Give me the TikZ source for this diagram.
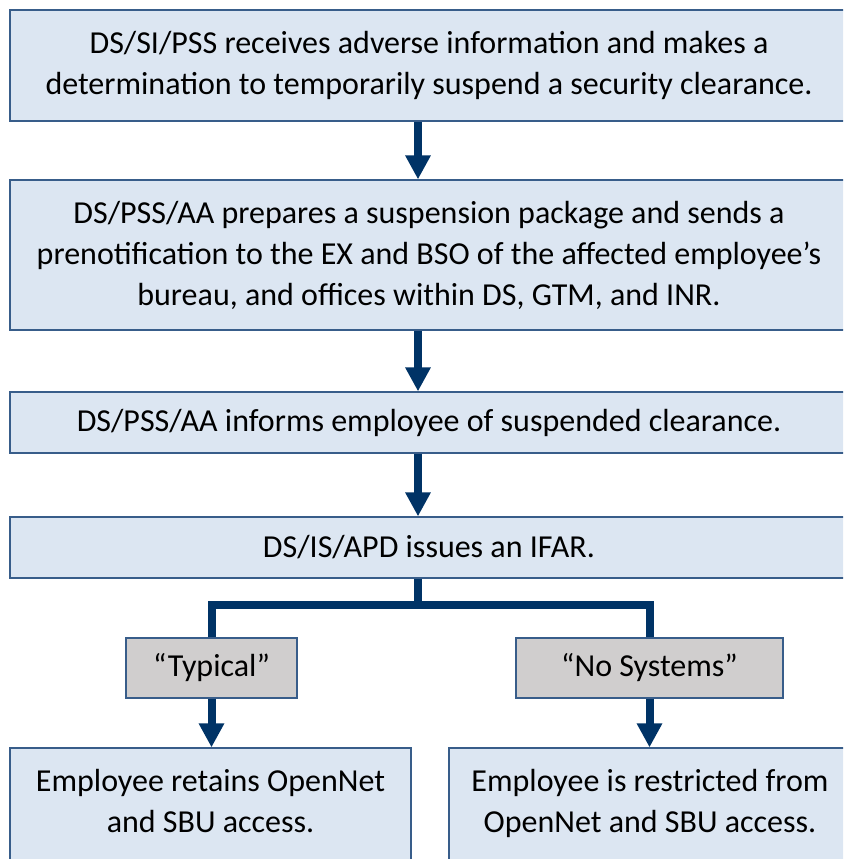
\documentclass[tikz,border=0pt]{standalone}
\usepackage{fontspec}
\setmainfont{Carlito}
\usetikzlibrary{arrows.meta}
\definecolor{boxblue}{RGB}{220,230,242}
\definecolor{edgeblue}{RGB}{56,93,138}
\definecolor{arrownavy}{RGB}{0,51,102}
\definecolor{tagfill}{RGB}{208,206,206}
\begin{document}
\begin{tikzpicture}
  [x=1pt,y=-1pt,
   every node/.style={draw=edgeblue,line width=1.2pt,inner sep=0pt,align=center,
     font=\fontsize{32}{41}\selectfont},
   stepbox/.style={fill=boxblue},
   tagbox/.style={fill=tagfill},
   trunk/.style={draw=arrownavy,line width=8pt,line join=miter},
   flow/.style={trunk,-{Triangle[width=24pt,length=24pt]}}]
  \useasboundingbox (0,0) rectangle (843,859);
  \clip (0,0) rectangle (843,859);
  \coordinate (spine) at (418,0);
  \coordinate (fork) at (418,605);

  \node[stepbox,minimum width=838pt,minimum height=111pt] (suspend) at (429,65.5)
    {DS/SI/PSS receives adverse information and makes a\\
     determination to temporarily suspend a security clearance.};
  \node[stepbox,minimum width=838pt,minimum height=150pt] (package) at (429,255)
    {DS/PSS/AA prepares a suspension package and sends a\\
     prenotification to the EX and BSO of the affected employee’s\\
     bureau, and offices within DS, GTM, and INR.};
  \node[stepbox,minimum width=838pt,minimum height=61pt] (inform) at (429,422.5)
    {DS/PSS/AA informs employee of suspended clearance.};
  \node[stepbox,minimum width=838pt,minimum height=61pt] (ifar) at (429,547.5)
    {DS/IS/APD issues an IFAR.};
  \node[tagbox,minimum width=171pt,minimum height=60pt] (typical) at (211.5,668)
    {“Typical”};
  \node[tagbox,minimum width=267pt,minimum height=60pt] (nosys) at (649.5,668)
    {“No Systems”};
  \node[stepbox,minimum width=401pt,minimum height=114pt,text depth=8pt] (retain) at (210.5,805)
    {Employee retains OpenNet\\ and SBU access.};
  \node[stepbox,minimum width=402pt,minimum height=114pt,text depth=8pt] (restrict) at (650,805)
    {Employee is restricted from\\ OpenNet and SBU access.};

\foreach \from/\to in
{suspend/package, package/inform, inform/ifar}
    \draw[flow] (\from.south -| spine) -- (\to.north -| spine);
  \draw[trunk] (ifar.south -| spine) -- (fork);
  \draw[trunk] (typical.north) |- (fork) -| (nosys.north);
  \draw[flow] (typical.south) -- (typical.south |- retain.north);
  \draw[flow] (nosys.south) -- (nosys.south |- restrict.north);
\end{tikzpicture}
\end{document}
